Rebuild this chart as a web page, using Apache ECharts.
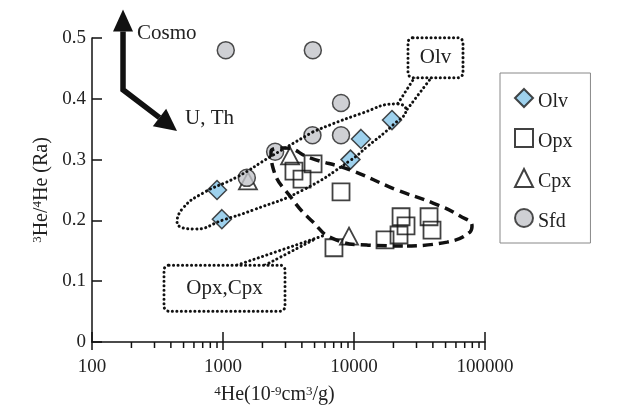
<!DOCTYPE html>
<html><head><meta charset="utf-8">
<script src="https://cdn.jsdelivr.net/npm/echarts@6/dist/echarts.min.js"></script>
<style>html,body{margin:0;padding:0;background:#fff}#c{width:620px;height:406px}</style>
</head><body><div id="c"></div>
<script>
// ---------- data ----------
const olvHe4   = [900, 980, 9400, 11300, 19500];
const olvRatio = [0.250, 0.202, 0.300, 0.334, 0.365];

const opxHe4   = [3480, 4010, 4870, 7960, 7030, 17250, 22870, 24950, 22060, 37400, 39400];
const opxRatio = [0.281, 0.268, 0.293, 0.247, 0.155, 0.168, 0.206, 0.191, 0.176, 0.206, 0.184];

const cpxHe4   = [1550, 3250, 9160];
const cpxRatio = [0.265, 0.306, 0.174];

const sfdHe4   = [1050, 4850, 7960, 4820, 7960, 2500, 1520];
const sfdRatio = [0.480, 0.480, 0.393, 0.340, 0.340, 0.313, 0.270];

const seriesNames = ['Olv', 'Opx', 'Cpx', 'Sfd'];

const xTickValues = [100, 1000, 10000, 100000];
const xTickLabels = ['100', '1000', '10000', '100000'];
const xMinorTicks = [200,300,400,500,600,700,800,900,2000,3000,4000,5000,6000,7000,8000,9000,
                     20000,30000,40000,50000,60000,70000,80000,90000];
const yTickLabels = ['0', '0.1', '0.2', '0.3', '0.4', '0.5'];

// annotation outlines (data coordinates)
const olvFieldHe4   = [4864, 11117, 21290, 24950, 19860, 12570, 9484, 4080, 1694, 1000, 611, 446, 495, 704, 1279, 2285, 4864];
const olvFieldRatio = [0.3456, 0.3752, 0.3917, 0.3818, 0.357, 0.321, 0.2994, 0.25, 0.217, 0.2006, 0.1857, 0.197, 0.2203, 0.245, 0.2714, 0.3044, 0.3456];

const pxcFieldHe4   = [25400, 51290, 76770, 79590, 64460, 40090, 21290, 9320, 4615, 2974, 2325, 2409, 3423, 4864, 6792, 12570, 25400];
const pxcFieldRatio = [0.1577, 0.1643, 0.1808, 0.1906, 0.2072, 0.2286, 0.25, 0.283, 0.3027, 0.3192, 0.3126, 0.2862, 0.2335, 0.1973, 0.1709, 0.1594, 0.1577];

const olvPointerA = [[29230, 0.4362], [21290, 0.390]];
const olvPointerB = [[39380, 0.4362], [24950, 0.3802]];
const pxcPointerA = [[1279, 0.1264], [6010, 0.1758]];
const pxcPointerB = [[2092, 0.1264], [4864, 0.1676]];

const olvBox = {x0: 25830, x1: 67920, y0: 0.4346, y1: 0.5005, text: 'Olv'};
const pxcBox = {x0: 354.5, x1: 2974, y0: 0.0506, y1: 0.1264, text: 'Opx,Cpx'};

const arrowCorner = [172.5, 0.4148];
const arrowUpTip = [172.5, 0.5467];
const arrowDiagTip = [445.6, 0.3472];
const cosmoLabel = {pos: [220.5, 0.507], text: 'Cosmo'};
const uthLabel = {pos: [512.9, 0.367], text: 'U, Th'};

// ---------- chart ----------
const F = '"Liberation Serif","Times New Roman",serif';
const INK = '#111';
const pairs = (xs, ys) => xs.map((x, i) => [x, ys[i]]);

const chart = echarts.init(document.getElementById('c'), null, {renderer: 'canvas'});

const dotted = {color: INK, width: 3, type: [0.1, 4.4], cap: 'round'};
function lineSeries(data, style, z) {
  return {type: 'line', data: data, symbol: 'none', smooth: 0.5, silent: true,
          lineStyle: style, z: z || 6, animation: false};
}

const option = {
  animation: false,
  backgroundColor: '#fff',
  grid: {left: 92, top: 38, width: 393, height: 304, containLabel: false, outerBoundsMode: 'none'},
  xAxis: {
    type: 'log', logBase: 10, min: 100, max: 100000,
    axisLine: {lineStyle: {color: INK, width: 1.5}},
    axisTick: {show: false},
    splitLine: {show: false},
    axisLabel: {margin: 16, fontFamily: F, fontSize: 19, color: '#222',
      formatter: v => { const i = xTickValues.indexOf(Math.round(v)); return i >= 0 ? xTickLabels[i] : ''; }},
    name: '{sup|4}He(10{sup|-9}cm{sup|3}/g)',
    nameLocation: 'middle', nameGap: 43,
    nameTextStyle: {fontFamily: F, fontSize: 20, color: '#222', padding: [0, 28, 0, 0],
      rich: {sup: {fontFamily: F, fontSize: 13, color: '#222', verticalAlign: 'top'}}}
  },
  yAxis: {
    type: 'value', min: 0, max: 0.5, interval: 0.1,
    axisLine: {show: true, lineStyle: {color: INK, width: 1.5}},
    axisTick: {show: true, inside: true, length: 10, lineStyle: {color: INK, width: 1.5}},
    splitLine: {show: false},
    axisLabel: {margin: 6, fontFamily: F, fontSize: 19, color: '#222',
      formatter: v => yTickLabels[Math.round(v * 10)]},
    name: '{sup|3}He/{sup|4}He (Ra)',
    nameLocation: 'middle', nameRotate: 90, nameGap: 40,
    nameTextStyle: {fontFamily: F, fontSize: 20, color: '#222',
      rich: {sup: {fontFamily: F, fontSize: 13, color: '#222', verticalAlign: 'top'}}}
  },
  legend: {
    orient: 'vertical', left: 500, top: 73,
    padding: [15, 18, 11, 14], itemGap: 16, itemWidth: 18, itemHeight: 18,
    borderColor: '#888', borderWidth: 1,
    formatter: n => '{t|' + n + '}',
    textStyle: {fontFamily: F, fontSize: 20, color: '#222',
      rich: {t: {fontFamily: F, fontSize: 20, color: '#222', padding: [8, 0, 0, 0]}}},
    data: seriesNames
  },
  series: [
    {name: 'Opx', type: 'scatter', symbol: 'rect', symbolSize: 17, data: pairs(opxHe4, opxRatio),
     itemStyle: {color: 'rgba(255,255,255,0)', borderColor: INK, borderWidth: 1.8}, z: 2},
    {name: 'Cpx', type: 'scatter', symbol: 'triangle', symbolSize: [18, 17], data: pairs(cpxHe4, cpxRatio),
     itemStyle: {color: 'rgba(255,255,255,0)', borderColor: INK, borderWidth: 1.8}, z: 2},
    {name: 'Sfd', type: 'scatter', symbol: 'circle', symbolSize: 17, data: pairs(sfdHe4, sfdRatio),
     itemStyle: {color: '#c3c4c9', borderColor: '#222', borderWidth: 1.5}, z: 3},
    {name: 'Olv', type: 'scatter', symbol: 'diamond', symbolSize: 19, data: pairs(olvHe4, olvRatio),
     itemStyle: {color: '#86c6e9', borderColor: '#1a1a1a', borderWidth: 1.5}, z: 4},
    lineSeries(pairs(olvFieldHe4, olvFieldRatio), dotted),
    lineSeries(pairs(pxcFieldHe4, pxcFieldRatio), {color: INK, width: 3.5, type: [10, 6], cap: 'butt'}),
    lineSeries(olvPointerA, dotted), lineSeries(olvPointerB, dotted),
    lineSeries(pxcPointerA, dotted), lineSeries(pxcPointerB, dotted),
    {type: 'custom', silent: true, clip: false, z: 7,
     data: xTickValues.map(v => [v, 0, 1]).concat(xMinorTicks.map(v => [v, 0, 0])),
     renderItem: function (params, api) {
       const p = api.coord([api.value(0), api.value(1)]);
       const major = api.value(2) === 1;
       return {type: 'line',
         shape: {x1: p[0], y1: p[1] - (major ? 10 : 0), x2: p[0], y2: p[1] + (major ? 8 : 6)},
         style: {stroke: INK, lineWidth: 1.5}};
     }}
  ]
};
chart.setOption(option);

// ---------- annotations positioned through the axes ----------
const toPx = p => chart.convertToPixel({gridIndex: 0}, p);
function head(tip, from, len, hw) {
  const dx = tip[0] - from[0], dy = tip[1] - from[1];
  const L = Math.hypot(dx, dy), ux = dx / L, uy = dy / L;
  const bx = tip[0] - ux * len, by = tip[1] - uy * len;
  return {base: [bx, by], pts: [tip, [bx - uy * hw, by + ux * hw], [bx + uy * hw, by - ux * hw]]};
}
const c = toPx(arrowCorner), up = toPx(arrowUpTip), dg = toPx(arrowDiagTip);
const h1 = head(up, c, 22, 10), h2 = head(dg, c, 22, 11);
const g = [
  {type: 'polyline', z: 100, shape: {points: [h1.base, c, h2.base]},
   style: {stroke: INK, lineWidth: 5.5, fill: null, lineJoin: 'miter'}},
  {type: 'polygon', z: 100, shape: {points: h1.pts}, style: {fill: INK}},
  {type: 'polygon', z: 100, shape: {points: h2.pts}, style: {fill: INK}}
];
[cosmoLabel, uthLabel].forEach(l => {
  const p = toPx(l.pos);
  g.push({type: 'text', z: 100, style: {text: l.text, x: p[0], y: p[1], align: 'left', verticalAlign: 'middle',
    fontFamily: F, fontSize: 21, fill: '#222'}});
});
[olvBox, pxcBox].forEach(b => {
  const a = toPx([b.x0, b.y1]), d = toPx([b.x1, b.y0]);
  g.push({type: 'rect', z: 100, shape: {x: a[0], y: a[1], width: d[0] - a[0], height: d[1] - a[1], r: 5},
    style: {fill: '#fff', stroke: INK, lineWidth: 3, lineDash: [0.1, 4.4], lineCap: 'round'}});
  g.push({type: 'text', z: 101, style: {text: b.text, x: (a[0] + d[0]) / 2, y: (a[1] + d[1]) / 2,
    align: 'center', verticalAlign: 'middle', fontFamily: F, fontSize: 21, fill: '#222'}});
});
chart.setOption({graphic: g});
</script>
</body></html>
